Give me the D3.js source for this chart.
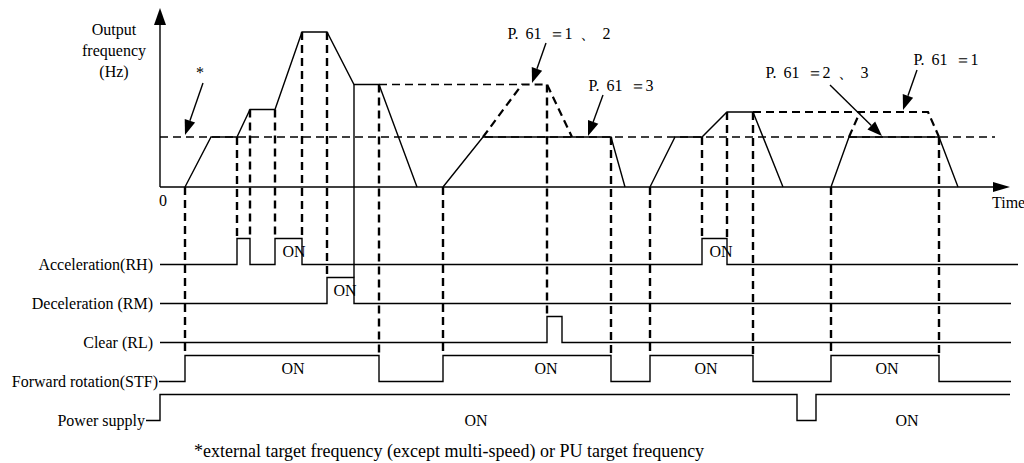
<!DOCTYPE html>
<html><head><meta charset="utf-8">
<script src="https://cdn.jsdelivr.net/npm/d3@7"></script>
<style>
body{margin:0;background:#fff}
svg{display:block}
text{font-family:"Liberation Serif","Times New Roman",serif;font-size:16px;fill:#000}
</style>
</head><body><svg id="c" width="1024" height="463"></svg>
<script>
// ---------------- data ----------------
const timeDomain = [0, 170];
const freqDomain = [0, 72];
const targetFreq = 20;

const profileSolid = [
  [[5,0],[10.2,20],[15.4,20],[18,31],[23,31],[28.4,62],[33.4,62],[38.8,41],[43.8,41],[51.4,0]],
  [[56.6,0],[64.6,20],[90.2,20],[93,0]],
  [[98,0],[103,20],[108.4,20],[113.4,30],[118.6,30],[124.6,0]],
  [[134.2,0],[137.8,20],[155.8,20],[159.6,0]]
];
const profileDashed = [
  [[43.8,41],[72.4,41]],
  [[64.6,20],[72.4,41],[77.4,41],[82.4,20]],
  [[118.6,30],[153.6,30],[155.8,20]],
  [[137.8,20],[140,30]]
];

const signalNames = ["Acceleration(RH)","Deceleration (RM)","Clear (RL)","Forward rotation(STF)","Power supply"];
const signalEdges = [
  [15.4,18,23,28.4,108.4,113.4],
  [33.4,38.8],
  [77.4,80.4],
  [5,43.8,56.6,90.2,98,118.6,134.2,155.8],
  [0,127.4,131.2]
];
const signalStart = [0,0,0,-0.2,-2.8];
const signalEnd = [171.6,170.2,170.2,170.2,170];

const onLabelRows  = [0,0,1,3,3,3,3,4,4];
const onLabelTimes = [26.8,112.2,37,26.6,77.2,109.2,145.4,63.2,149.4];

const syncTimes = [5,15.4,18,23,28.4,33.4,38.8,43.8,56.6,77.4,90.2,98,108.4,113.4,118.6,134.2,155.8];
const syncFreqs = [0,20,31,31,62,62,41,41,0,41,20,0,20,30,30,0,20];
const syncRows  = [3,0,0,0,0,1,1,3,3,2,3,3,0,0,3,3,3];
const syncSolid = [0,0,0,0,0,0,1,0,0,0,0,0,0,0,0,0,0];

const annoText = ["*","P. 61 \uFF1D1 \u3001 2","P. 61 \uFF1D3","P. 61 \uFF1D2 \u3001 3","P. 61 \uFF1D1"];
const annoTextPos = [[8,46],[79.8,61.6],[92.2,40.8],[131.4,46],[157.2,51.2]];
const annoFrom = [[8.6,41.6],[77.2,57.6],[88.6,36.8],[134,40.8],[151.4,46.8]];
const annoTo   = [[5,20.8],[74.4,41.6],[85.6,20.4],[144.4,20.4],[148.6,30.8]];

const footnote = "*external target frequency (except multi-speed) or PU target frequency";

// ---------------- drawing ----------------
const svg = d3.select("#c");
const x = d3.scaleLinear().domain(timeDomain).range([160, 1010]);
const y = d3.scaleLinear().domain(freqDomain).range([187, 7]);
const row = d3.scalePoint().domain(signalNames).range([264.5, 420.5]);
const lvl = d3.scaleLinear().domain([0,1]).range([0,-26]);
const rowY = (i, l) => row(signalNames[i]) + lvl(l);
const line = d3.line().x(d => x(d[0])).y(d => y(d[1]));

// axes
svg.append("line").attr("x1", x(0)).attr("x2", x(timeDomain[1]) - 14)
  .attr("y1", y(0)).attr("y2", y(0)).attr("stroke", "#000").attr("stroke-width", 1.4);
svg.append("path").attr("d", `M${x(timeDomain[1])},${y(0)}L${x(timeDomain[1])-17},${y(0)-5}L${x(timeDomain[1])-17},${y(0)+5}Z`).attr("fill","#000");
svg.append("line").attr("x1", x(0)).attr("x2", x(0))
  .attr("y1", y(0)).attr("y2", y(freqDomain[1]) + 14).attr("stroke", "#000").attr("stroke-width", 1.4);
svg.append("path").attr("d", `M${x(0)},${y(freqDomain[1])+1}L${x(0)-6},${y(freqDomain[1])+18}L${x(0)+6},${y(freqDomain[1])+18}Z`).attr("fill","#000");

svg.append("text").attr("x", x(0)+3).attr("y", y(0)+13).attr("text-anchor","middle").attr("dominant-baseline","central").text("0");
svg.append("text").attr("x", 992).attr("y", y(0)+15).attr("dominant-baseline","central").text("Time");
const yl = svg.append("text").attr("text-anchor","middle");
[["Output",29],["frequency",50],["(Hz)",71]].forEach(([t,yy]) =>
  yl.append("tspan").attr("x",114).attr("y",yy).attr("dominant-baseline","central").text(t));

// target frequency
svg.append("line").attr("x1", x(0)).attr("x2", x(167)).attr("y1", y(targetFreq)).attr("y2", y(targetFreq))
  .attr("stroke","#000").attr("stroke-width",1.3).attr("stroke-dasharray","8,5");

// sync lines
syncTimes.forEach((t, i) => {
  svg.append("line").attr("x1", x(t)).attr("x2", x(t))
    .attr("y1", y(syncFreqs[i])).attr("y2", rowY(syncRows[i], 1))
    .attr("stroke","#000")
    .attr("stroke-width", syncSolid[i] ? 1.4 : 2.4)
    .attr("stroke-dasharray", syncSolid[i] ? null : "8,5");
});

// profile
profileSolid.forEach(p => svg.append("path").attr("d", line(p)).attr("fill","none")
  .attr("stroke","#000").attr("stroke-width",1.4).attr("stroke-linejoin","miter"));
profileDashed.forEach((p, i) => svg.append("path").attr("d", line(p)).attr("fill","none")
  .attr("stroke","#000").attr("stroke-width", i === 0 ? 1.4 : 2.2).attr("stroke-dasharray","8,5"));

// signals
signalNames.forEach((name, i) => {
  let level = 0;
  const pts = [[signalStart[i], 0]];
  signalEdges[i].forEach(e => { pts.push([e, level]); level = 1 - level; pts.push([e, level]); });
  pts.push([signalEnd[i], level]);
  svg.append("path").attr("d", d3.line().x(d => x(d[0])).y(d => rowY(i, d[1]))(pts))
    .attr("fill","none").attr("stroke","#000").attr("stroke-width",1.4);
});

const labelEnd = [153, 153, 153, 158, 145];
signalNames.forEach((name, i) => {
  svg.append("text").attr("x", labelEnd[i]).attr("y", rowY(i, 0)).attr("text-anchor","end")
    .attr("dominant-baseline","central").text(name);
});

onLabelTimes.forEach((t, i) => {
  const r = onLabelRows[i];
  svg.append("text").attr("x", x(t)).attr("y", rowY(r, r === 4 ? 0 : 0.5))
    .attr("text-anchor","middle").attr("dominant-baseline","central").text("ON");
});

// annotations
annoText.forEach((t, i) => {
  svg.append("text").attr("x", x(annoTextPos[i][0])).attr("y", y(annoTextPos[i][1]))
    .attr("text-anchor","middle").attr("dominant-baseline","central")
    .style("word-spacing", "3px").text(t);
  const x0 = x(annoFrom[i][0]), y0 = y(annoFrom[i][1]), x1 = x(annoTo[i][0]), y1 = y(annoTo[i][1]);
  const ang = Math.atan2(y1 - y0, x1 - x0), L = 15, W = 5.5;
  const bx = x1 - L*Math.cos(ang), by = y1 - L*Math.sin(ang);
  svg.append("line").attr("x1", x0).attr("y1", y0).attr("x2", bx).attr("y2", by)
    .attr("stroke","#000").attr("stroke-width",1.4);
  svg.append("path").attr("d", `M${x1},${y1}L${bx - W*Math.sin(ang)},${by + W*Math.cos(ang)}L${bx + W*Math.sin(ang)},${by - W*Math.cos(ang)}Z`)
    .attr("fill","#000");
});

svg.append("text").attr("x", 194).attr("y", 451).attr("dominant-baseline","central")
  .style("font-size", "18px").text(footnote);
</script>
</body></html>
